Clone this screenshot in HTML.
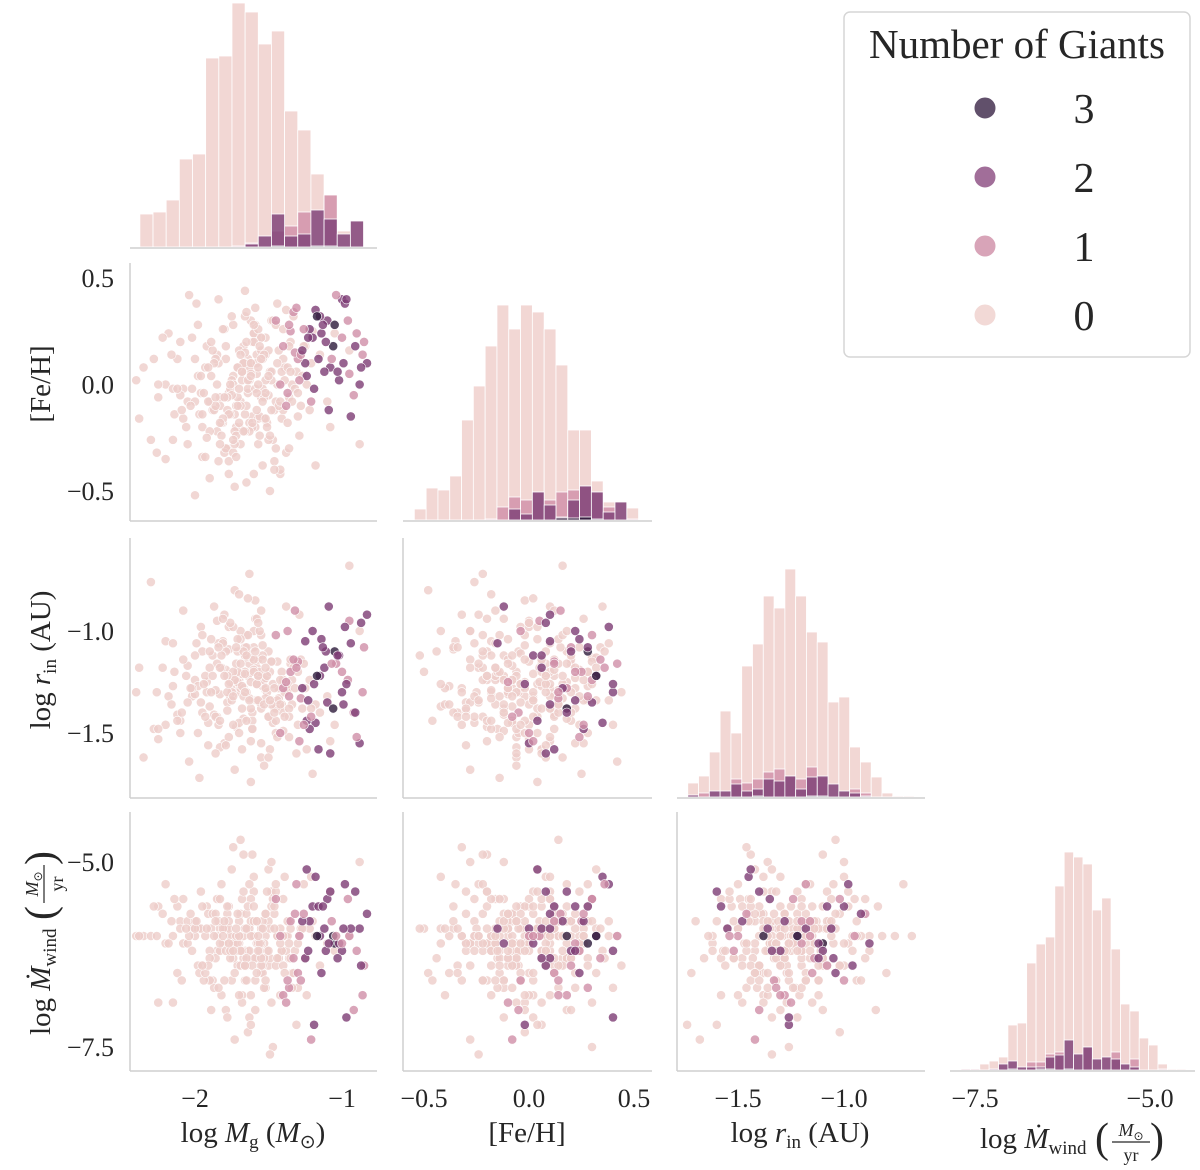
<!DOCTYPE html>
<html><head><meta charset="utf-8"><style>
body{margin:0;background:#fff;}
svg text{font-family:"Liberation Serif",serif;fill:#262626;}
</style></head><body>
<svg id="chart" width="1200" height="1170" viewBox="0 0 1200 1170" xmlns="http://www.w3.org/2000/svg" style="position:absolute;left:0;top:0">
<g id="panels"></g>
<g id="legend">
<rect x="844" y="12" width="346" height="345" rx="6" fill="#fff" stroke="#d6d6d6" stroke-width="1.5"/>
<text x="1017" y="58" font-size="41" text-anchor="middle">Number of Giants</text>
<g><circle cx="985" cy="108" r="11" fill="#3a2547" opacity="0.8" stroke="#fff"/><text x="1084" y="123" font-size="42" text-anchor="middle">3</text></g>
<g><circle cx="985" cy="177" r="11" fill="#8a4a80" opacity="0.8" stroke="#fff"/><text x="1084" y="192" font-size="42" text-anchor="middle">2</text></g>
<g><circle cx="985" cy="246" r="11" fill="#cf8ea7" opacity="0.8" stroke="#fff"/><text x="1084" y="261" font-size="42" text-anchor="middle">1</text></g>
<g><circle cx="985" cy="315" r="11" fill="#efd0cc" opacity="0.8" stroke="#fff"/><text x="1084" y="330" font-size="42" text-anchor="middle">0</text></g>
</g>
</svg>
<script>
// ---- data ----
const extraMg = [-1.72,-1.58,-1.85,-1.64,-1.50,-1.78,-1.92,-1.61,-1.44,-1.69,
-1.55,-1.81,-2.02,-1.66,-1.47,-1.74,-1.88,-1.59,-1.36,-1.70,
-1.63,-1.95,-1.52,-1.77,-1.41,-1.68,-2.10,-1.57,-1.83,-1.49,
-1.73,-1.60,-1.90,-1.54,-1.79,-2.20,-1.65,-1.43,-1.76,-1.87,
-1.62,-1.51,-1.98,-1.71,-1.56,-1.84,-1.38,-1.67,-2.05,-1.75,
-1.53,-1.80,-1.64,-1.46,-1.93,-1.69,-1.58,-2.15,-1.72,-1.48,
-1.86,-1.61,-1.77,-1.34,-1.66,-2.00,-1.55,-1.82,-1.70,-1.45,
-1.89,-1.63,-1.52,-1.78,-2.08,-1.67,-1.40,-1.74,-1.96,-1.59,
-1.71,-1.50,-1.85,-1.65,-2.25,-1.57,-1.79,-1.42,-1.68,-1.91,
-1.60,-1.76,-1.54,-2.12,-1.73,-1.48,-1.83,-1.66,-1.37,-1.62];
const extraFe = [-0.10,0.05,-0.22,0.12,-0.05,-0.30,0.18,-0.15,0.00,-0.08,
0.22,-0.18,-0.02,0.10,-0.26,0.04,-0.12,0.28,-0.06,-0.20,
0.08,-0.34,0.14,-0.04,-0.16,0.02,0.20,-0.28,-0.10,0.06,
-0.14,0.24,-0.08,-0.38,0.12,0.00,-0.22,0.16,-0.02,-0.12,
0.30,-0.18,0.04,-0.06,-0.24,0.10,-0.32,0.18,-0.08,0.02,
-0.16,0.26,-0.04,-0.12,0.08,-0.28,0.14,-0.02,-0.20,0.06,
-0.10,0.20,-0.36,0.00,-0.14,0.12,-0.06,-0.24,0.16,-0.08,
0.04,-0.18,0.22,-0.30,-0.02,0.10,-0.12,0.28,-0.04,-0.20,
0.08,-0.26,0.14,-0.10,0.00,-0.16,0.18,-0.42,0.06,-0.08,
0.24,-0.14,-0.02,0.12,-0.22,0.02,-0.06,0.32,-0.18,0.10];
const extraRin = [-1.30,-1.18,-1.42,-1.22,-1.10,-1.35,-1.25,-1.48,-1.15,-1.28,
-1.38,-1.05,-1.32,-1.20,-1.45,-1.26,-1.12,-1.34,-1.52,-1.24,
-1.16,-1.40,-1.29,-0.98,-1.36,-1.21,-1.44,-1.14,-1.31,-1.58,
-1.23,-1.08,-1.37,-1.27,-1.19,-1.46,-1.02,-1.33,-1.25,-1.41,
-1.13,-1.30,-1.50,-1.20,-1.35,-1.06,-1.28,-1.43,-1.17,-1.32,
-1.24,-1.55,-1.11,-1.38,-1.22,-1.00,-1.34,-1.27,-1.47,-1.15,
-1.29,-1.40,-1.09,-1.36,-1.21,-1.31,-1.62,-1.18,-1.26,-1.44,
-1.04,-1.33,-1.23,-1.39,-1.14,-1.28,-1.49,-1.20,-1.35,-0.94,
-1.25,-1.42,-1.16,-1.30,-1.53,-1.22,-1.10,-1.37,-1.27,-1.45,
-1.19,-1.32,-1.07,-1.41,-1.24,-1.34,-1.57,-1.13,-1.29,-1.38];
const extraMw = [-6.0,-5.8,-6.2,-5.9,-6.4,-6.1,-5.6,-6.3,-6.0,-5.7,
-6.5,-6.1,-5.9,-6.2,-5.5,-6.0,-6.6,-5.8,-6.3,-6.1,
-5.9,-6.4,-6.0,-5.6,-6.2,-6.8,-5.8,-6.1,-5.9,-6.3,
-6.0,-5.4,-6.2,-6.5,-5.9,-6.1,-5.7,-6.3,-6.0,-6.7,
-5.8,-6.2,-5.9,-6.4,-6.1,-5.5,-6.0,-6.3,-5.8,-6.6,
-6.1,-5.9,-6.2,-5.7,-6.0,-6.4,-5.8,-6.9,-6.1,-5.6,
-6.3,-6.0,-5.9,-6.5,-6.2,-5.8,-6.1,-5.3,-6.0,-6.4,
-5.9,-6.2,-6.7,-5.7,-6.1,-6.0,-5.5,-6.3,-5.9,-6.6,
-6.2,-5.8,-6.0,-6.4,-5.6,-6.1,-7.0,-5.9,-6.2,-5.7,
-6.0,-6.3,-5.8,-6.5,-6.1,-5.4,-6.2,-5.9,-6.0,-6.8];
const logMg = [-1.62,-1.95,-1.40,-2.20,-1.75,-1.55,-1.30,-1.85,-2.05,-1.48,
-1.70,-1.25,-1.60,-2.35,-1.90,-1.52,-1.38,-1.78,-2.10,-1.66,
-1.45,-1.58,-1.82,-1.20,-2.00,-1.73,-1.50,-1.35,-1.92,-1.64,
-2.28,-1.56,-1.44,-1.80,-1.68,-1.28,-1.98,-1.61,-1.74,-1.42,
-1.88,-1.53,-2.15,-1.67,-1.33,-1.77,-1.59,-2.02,-1.46,-1.71,
-1.22,-1.84,-1.63,-2.40,-1.54,-1.36,-1.79,-1.69,-1.94,-1.49,
-1.57,-2.08,-1.31,-1.72,-1.86,-1.43,-1.65,-2.25,-1.51,-1.76,
-1.18,-1.60,-1.97,-1.39,-1.83,-1.55,-2.12,-1.47,-1.70,-1.27,
-1.90,-1.62,-1.34,-2.18,-1.58,-1.74,-1.41,-2.04,-1.66,-1.52,
-1.15,-1.81,-1.63,-2.30,-1.45,-1.69,-1.37,-1.93,-1.56,-1.78,
-1.24,-2.06,-1.59,-1.48,-1.87,-1.65,-2.22,-1.32,-1.73,-1.54,
-1.10,-1.96,-1.61,-1.40,-1.84,-1.68,-2.14,-1.50,-1.29,-1.75,
-1.58,-2.00,-1.44,-1.71,-1.89,-1.36,-1.64,-2.38,-1.53,-1.80,
-1.05,-1.67,-1.91,-1.46,-1.57,-2.09,-1.26,-1.74,-1.62,-1.99,
-1.42,-1.83,-1.55,-2.26,-1.35,-1.70,-1.60,-1.95,-1.21,-1.77,
-0.95,-1.49,-1.86,-1.65,-2.03,-1.39,-1.72,-1.57,-1.08,-1.81,
-1.52,-2.16,-1.30,-0.88,-1.66,
-1.35,-1.25,-1.10,-0.95,-1.40,-1.18,-1.05,-0.88,-1.30,-1.20,
-1.00,-0.92,-1.32,-1.15,-1.08,-0.85,-1.38,-1.22,-1.02,-0.98,
-1.28,-1.12,-0.90,-1.45,-1.19,-1.06,-0.83,-1.33,-1.24,-1.00,
-0.94,-1.36,-1.16,-1.04,-0.87,-1.27,-1.21,-1.11,-0.96,-1.42,
-1.14,-0.99,-1.31,-1.09,-0.86,-1.26,-1.03,-1.17,-0.91,-1.37,
-1.23,-1.07,-0.97,-1.29,-1.13];
const feH = [0.05,-0.20,0.12,-0.35,-0.05,0.22,-0.15,0.00,-0.28,0.30,
-0.10,0.18,-0.42,0.08,-0.22,0.02,0.35,-0.12,-0.05,0.15,
-0.30,0.10,-0.18,0.25,-0.08,-0.48,0.04,0.20,-0.25,-0.02,
0.12,-0.15,0.38,-0.32,0.06,-0.10,0.28,-0.20,0.00,-0.40,
0.16,-0.06,-0.26,0.10,0.32,-0.14,-0.02,0.22,-0.36,0.08,
-0.12,0.40,-0.22,0.02,-0.08,0.18,-0.30,0.14,-0.04,-0.50,
0.26,-0.16,0.06,-0.24,0.12,-0.10,0.34,-0.06,-0.20,0.00,
-0.38,0.20,-0.14,0.08,-0.28,0.16,-0.02,0.30,-0.18,0.04,
-0.44,0.10,-0.08,0.24,-0.12,-0.32,0.06,0.42,-0.22,-0.04,
0.14,-0.16,0.02,-0.26,0.28,-0.10,0.08,-0.34,0.18,-0.06,
0.00,-0.20,0.36,-0.12,0.10,-0.46,0.22,-0.02,-0.28,0.12,
-0.08,0.04,-0.18,0.26,-0.36,0.06,-0.14,0.16,-0.24,0.32,
-0.04,-0.52,0.10,-0.10,0.20,-0.30,0.02,-0.16,0.14,-0.06,
0.24,-0.22,0.08,-0.40,0.00,-0.12,0.18,-0.26,0.04,0.38,
-0.08,-0.18,0.12,-0.32,0.06,-0.02,0.28,-0.14,0.10,-0.42,
0.16,-0.24,-0.06,0.20,-0.10,0.02,-0.34,0.08,-0.20,0.26,
-0.16,0.14,-0.04,-0.28,0.44,
0.25,0.10,0.30,0.05,0.18,0.35,0.28,0.00,0.12,0.22,
0.40,-0.05,0.15,0.32,0.08,0.20,-0.10,0.26,0.02,0.38,
0.14,0.06,0.24,0.30,-0.02,0.18,0.10,0.34,0.04,0.22,
-0.15,0.28,0.12,0.42,0.08,0.16,-0.08,0.20,0.30,0.00,
0.24,0.10,0.36,-0.12,0.14,0.26,0.06,0.32,0.18,-0.04,
0.22,0.12,0.40,0.02,0.28];
const logRin = [-1.25,-1.10,-1.40,-1.05,-1.30,-1.55,-1.20,-0.95,-1.35,-1.15,
-1.45,-1.28,-1.00,-1.62,-1.18,-1.33,-0.88,-1.22,-1.50,-1.08,
-1.38,-1.26,-1.12,-1.70,-1.24,-0.80,-1.42,-1.16,-1.30,-1.02,
-1.48,-1.20,-1.34,-0.92,-1.58,-1.14,-1.27,-1.44,-0.98,-1.36,
-1.22,-1.66,-1.06,-1.32,-1.18,-1.52,-0.85,-1.28,-1.40,-1.10,
-1.24,-1.46,-0.72,-1.30,-1.12,-1.38,-1.56,-1.04,-1.26,-1.20,
-1.34,-0.90,-1.60,-1.16,-1.42,-1.28,-1.08,-1.48,-1.22,-0.96,
-1.36,-1.14,-1.72,-1.30,-1.18,-1.02,-1.44,-1.26,-0.82,-1.38,
-1.10,-1.54,-1.24,-1.32,-0.94,-1.46,-1.20,-1.64,-1.12,-1.28,
-1.40,-1.06,-1.34,-0.76,-1.50,-1.16,-1.26,-1.42,-1.00,-1.30,
-1.58,-1.22,-1.10,-1.36,-0.88,-1.44,-1.18,-1.28,-1.68,-1.14,
-1.32,-0.98,-1.48,-1.24,-1.08,-1.38,-1.20,-1.62,-0.92,-1.34,
-1.26,-1.12,-1.52,-1.04,-1.30,-1.42,-0.84,-1.18,-1.36,-1.22,
-1.46,-1.10,-1.56,-1.28,-0.96,-1.40,-1.16,-1.32,-1.74,-1.06,
-1.24,-1.44,-0.90,-1.30,-1.14,-1.50,-1.20,-1.02,-1.38,-1.26,
-0.68,-1.34,-1.60,-1.12,-1.28,-1.42,-1.08,-1.22,-1.54,-0.94,
-1.18,-1.36,-1.46,-1.00,-1.30,
-1.20,-1.05,-1.35,-0.95,-1.28,-1.45,-1.10,-1.55,-1.15,-1.00,
-1.30,-1.40,-0.90,-1.22,-1.60,-1.08,-1.25,-1.48,-1.12,-0.98,
-1.33,-1.18,-1.52,-1.02,-1.26,-1.38,-0.92,-1.14,-1.44,-1.20,
-1.06,-1.32,-1.58,-1.16,-0.96,-1.28,-1.42,-1.10,-1.24,-1.50,
-1.04,-1.36,-1.18,-0.88,-1.30,-1.46,-1.12,-1.22,-1.40,-1.00,
-1.34,-1.16,-1.26,-1.54,-1.08];
const logMwind = [-6.0,-5.6,-6.4,-5.3,-6.2,-5.9,-6.7,-5.5,-6.1,-6.9,
-5.8,-6.3,-5.2,-6.0,-6.6,-5.7,-6.2,-7.1,-5.9,-6.4,
-5.4,-6.1,-6.8,-5.8,-6.0,-6.5,-5.1,-6.3,-5.9,-7.3,
-5.6,-6.2,-6.0,-6.6,-5.5,-5.9,-6.4,-4.9,-6.1,-6.8,
-5.7,-6.3,-6.0,-5.4,-6.5,-5.8,-7.0,-6.2,-5.6,-6.1,
-5.9,-6.7,-5.3,-6.0,-6.4,-5.8,-6.2,-4.7,-6.6,-5.9,
-6.1,-5.5,-7.2,-6.0,-5.7,-6.3,-5.9,-6.9,-5.4,-6.2,
-6.0,-5.8,-6.5,-5.2,-6.1,-6.4,-5.6,-7.5,-6.0,-5.9,
-6.3,-5.5,-6.7,-6.1,-5.8,-4.8,-6.2,-6.0,-6.6,-5.7,
-6.4,-5.9,-7.1,-6.0,-5.3,-6.2,-5.8,-6.5,-6.1,-5.6,
-6.8,-5.9,-6.3,-5.0,-6.0,-6.6,-5.7,-6.2,-7.4,-5.9,
-6.1,-5.4,-6.4,-6.0,-5.8,-6.9,-5.5,-6.2,-6.0,-5.1,
-6.5,-5.9,-6.3,-5.7,-7.0,-6.1,-5.6,-6.0,-6.7,-5.8,
-6.2,-4.9,-6.4,-5.9,-6.0,-6.6,-5.3,-6.2,-7.2,-5.8,
-6.1,-5.5,-6.3,-6.0,-5.9,-6.8,-5.6,-6.4,-5.2,-6.1,
-6.0,-7.6,-5.8,-6.3,-5.7,-6.5,-5.9,-6.2,-5.4,-6.0,
-6.6,-5.8,-6.1,-5.0,-6.4,
-5.8,-6.3,-5.5,-6.0,-6.8,-5.2,-6.1,-5.9,-6.5,-5.6,
-6.2,-7.0,-5.7,-6.0,-5.4,-6.4,-6.9,-5.8,-6.1,-5.3,
-6.6,-5.9,-6.2,-5.5,-7.2,-6.0,-5.7,-6.3,-5.1,-6.1,
-5.9,-6.7,-5.6,-6.0,-6.4,-5.8,-7.4,-6.2,-5.5,-6.0,
-6.5,-5.9,-5.3,-6.1,-6.8,-5.7,-6.3,-6.0,-5.4,-6.6,
-6.2,-5.8,-7.1,-6.0,-5.6];
const giantsTail = [1,2,2,1,1,2,3,2,1,2, 2,1,1,2,2,1,1,2,2,2, 1,2,1,1,2,3,2,1,2,1,
2,1,2,1,2,2,1,2,1,1, 2,2,1,2,1,1,2,3,2,1, 2,1,2,1,2];

// histogram bin counts per hue (0,1,2,3)
const histMg0 = [33,35,47,88,93,189,191,244,235,203,216,136,117,73,52,16,26];
const histMg1 = [0,0,0,0,0,0,0,1,4,0,16,21,35,0,52,0,0];
const histMg2 = [0,0,0,0,0,0,0,0,3,11,33,11,13,37,28,13,26];
const histMg3 = [0,0,0,0,0,0,0,0,0,0,1,0,0,1,1,0,0];
const histFe0 = [11,32,30,44,100,134,174,215,191,215,208,191,155,90,90,39,18,18,12];
const histFe1 = [0,0,0,0,0,0,1,13,23,20,28,20,28,30,34,28,13,0,1];
const histFe2 = [0,0,0,0,0,0,0,0,11,6,28,15,3,20,34,28,8,18,0];
const histFe3 = [0,0,0,0,0,0,0,0,0,0,0,0,2,2,3,1,0,0,0];
const histRin0 = [14,21,45,86,64,131,153,201,189,228,201,165,155,95,100,50,35,20,4,1,1];
const histRin1 = [0,4,0,0,18,14,18,25,28,21,18,30,20,0,0,8,4,0,0,0,0];
const histRin2 = [2,0,6,6,13,6,8,18,16,21,8,20,21,13,6,4,1,0,0,0,0];
const histRin3 = [0,0,0,0,0,0,1,0,0,0,0,1,1,0,0,0,0,0,0,0,0];
const histMw0 = [1,1,6,9,13,45,47,107,126,133,184,218,213,206,160,172,121,66,59,32,25,6,1,1];
const histMw1 = [1,1,0,0,0,0,0,8,8,16,18,0,0,23,0,0,18,0,11,0,0,1,0,0];
const histMw2 = [0,0,0,1,6,9,3,3,3,13,15,30,16,23,11,13,11,6,3,0,0,0,0,0];
const histMw3 = [0,0,0,0,0,1,0,0,1,1,0,1,0,0,0,0,0,0,0,0,0,0,0,0];

const xTicksMg = [-2,-1], xTicksFe = [-0.5,0.0,0.5], xTicksRin = [-1.5,-1.0], xTicksMw = [-7.5,-5.0];
const yTicksFe = [0.5,0.0,-0.5], yTicksRin = [-1.0,-1.5], yTicksMw = [-5.0,-7.5];

// ---- layout ----
const NS = "http://www.w3.org/2000/svg";
const root = document.getElementById('panels');
const cols = [[130,377],[403,652],[677,925],[950,1195]];
const rows = [[0,247],[263,520],[538,797],[812,1070]];
function lin(v0,p0,v1,p1){return v=>p0+(v-v0)*(p1-p0)/(v1-v0);}
const X = [lin(-2,195,-1,342), lin(-0.5,424,0.5,634), lin(-1.5,738,-1.0,844), lin(-7.5,975,-5.0,1150)];
const Y = [null, lin(0.5,278,-0.5,491), lin(-1.0,631,-1.5,733), lin(-5.0,862,-7.5,1047)];
const vars = [extraMg.concat(logMg), extraFe.concat(feH), extraRin.concat(logRin), extraMw.concat(logMwind)];
const N = Math.min(vars[0].length, vars[1].length, vars[2].length, vars[3].length);
const nLight = N - giantsTail.length;
const giants = [];
for (let i=0;i<N;i++) giants.push(i<nLight?0:giantsTail[i-nLight]);
const ptColors = ['#edcdc9','#cf8ea7','#7d3c74','#2d1a3b'];
const barColors = ['#f2d7d4','#d08ea8','#82457a','#2e1a3a'];
const barOpac = [1,0.8,0.85,0.9];

function el(tag, attrs, parent){const e=document.createElementNS(NS,tag);for(const k in attrs)e.setAttribute(k,attrs[k]);(parent||root).appendChild(e);return e;}
function fmt(v){return (v<0?'\u2212':'')+Math.abs(v).toFixed(1);}
function fmtInt(v){return (v<0?'\u2212':'')+Math.abs(v);}
const spine = '#cfcfcf';

const hists = [
 {bins:[histMg0,histMg1,histMg2,histMg3], start:-2.375, w:0.0895},
 {bins:[histFe0,histFe1,histFe2,histFe3], start:-0.546, w:0.0562},
 {bins:[histRin0,histRin1,histRin2,histRin3], start:-1.737, w:0.0509},
 {bins:[histMw0,histMw1,histMw2,histMw3], start:-7.7, w:0.134}
];
hists.forEach((h,k)=>{
  const g = el('g',{});
  
  
  const base = rows[k][1];
  const hy = c => base - c;
  h.bins.forEach((arr,hue)=>{
    arr.forEach((c,b)=>{
      if(c<=0) return;
      const x0 = X[k](h.start + b*h.w), x1 = X[k](h.start+(b+1)*h.w);
      const r = el('rect',{x:x0,y:hy(c),width:x1-x0,height:c,fill:barColors[hue],'fill-opacity':barOpac[hue],stroke:'#fff','stroke-width':0.8},g);
      
      
    });
  });
  const ln = el('line',{x1:cols[k][0],x2:cols[k][1],y1:base+1,y2:base+1,stroke:spine,'stroke-width':1.5},g);
  
  
});

for (let r=1;r<4;r++){
  for (let c=0;c<r;c++){
    const g = el('g',{});
    
    
    for (let i=0;i<N;i++){
      const p = el('circle',{cx:X[c](vars[c][i]),cy:Y[r](vars[r][i]),r:4.6,fill:ptColors[giants[i]],'fill-opacity':0.8,stroke:'#fff','stroke-width':0.6},g);
      
      
    }
    el('line',{x1:cols[c][0],x2:cols[c][0],y1:rows[r][0],y2:rows[r][1]+1,stroke:spine,'stroke-width':1.5},g);
    el('line',{x1:cols[c][0],x2:cols[c][1],y1:rows[r][1]+1,y2:rows[r][1]+1,stroke:spine,'stroke-width':1.5},g);
  }
}

[null,yTicksFe,yTicksRin,yTicksMw].forEach((arr,r)=>{
  if(!arr) return;
  arr.forEach(v=>{
    const t = el('text',{x:114,y:Y[r](v)+9,'font-size':26,'text-anchor':'end'});
    t.textContent = fmt(v);
    
    
  });
});
[xTicksMg,xTicksFe,xTicksRin,xTicksMw].forEach((arr,c)=>{
  arr.forEach(v=>{
    const t = el('text',{x:X[c](v),y:1107,'font-size':26,'text-anchor':'middle'});
    t.textContent = (c===0)? fmtInt(v) : fmt(v);
    
    
  });
});
</script>
<svg width="1200" height="1170" style="position:absolute;left:0;top:0;pointer-events:none">
<g font-family="Liberation Serif, serif" fill="#262626" font-size="29">
<text x="253" y="1142" text-anchor="middle">log <tspan font-style="italic">M</tspan><tspan font-size="19" dy="6">g</tspan><tspan dy="-6"> (</tspan><tspan font-style="italic">M</tspan><tspan font-size="19" dy="6">⊙</tspan><tspan dy="-6">)</tspan></text>
<text x="527" y="1142" text-anchor="middle">[Fe/H]</text>
<text x="800" y="1142" text-anchor="middle">log <tspan font-style="italic">r</tspan><tspan font-size="19" dy="6">in</tspan><tspan dy="-6"> (AU)</tspan></text>
<g>
<text x="980" y="1148">log <tspan font-style="italic">Ṁ</tspan><tspan font-size="19" dy="6">wind</tspan></text>
<text x="1095" y="1152" font-size="42">(</text>
<text x="1131" y="1136" font-size="18" text-anchor="middle" font-style="italic">M<tspan font-style="normal" font-size="12" dy="4">⊙</tspan></text>
<line x1="1112" x2="1150" y1="1142" y2="1142" stroke="#262626" stroke-width="1.2"/>
<text x="1131" y="1161" font-size="18" text-anchor="middle">yr</text>
<text x="1150" y="1152" font-size="42">)</text>
</g>
<text transform="translate(50,384) rotate(-90)" text-anchor="middle">[Fe/H]</text>
<text transform="translate(50,660) rotate(-90)" text-anchor="middle">log <tspan font-style="italic">r</tspan><tspan font-size="19" dy="6">in</tspan><tspan dy="-6"> (AU)</tspan></text>
<g transform="translate(50,940) rotate(-90)">
<text x="-95" y="0">log <tspan font-style="italic">Ṁ</tspan><tspan font-size="19" dy="6">wind</tspan></text>
<text x="20" y="4" font-size="42">(</text>
<text x="56" y="-12" font-size="18" text-anchor="middle" font-style="italic">M<tspan font-style="normal" font-size="12" dy="4">⊙</tspan></text>
<line x1="37" x2="75" y1="-6" y2="-6" stroke="#262626" stroke-width="1.2"/>
<text x="56" y="13" font-size="18" text-anchor="middle">yr</text>
<text x="75" y="4" font-size="42">)</text>
</g>
</g>
</svg>
</body></html>
